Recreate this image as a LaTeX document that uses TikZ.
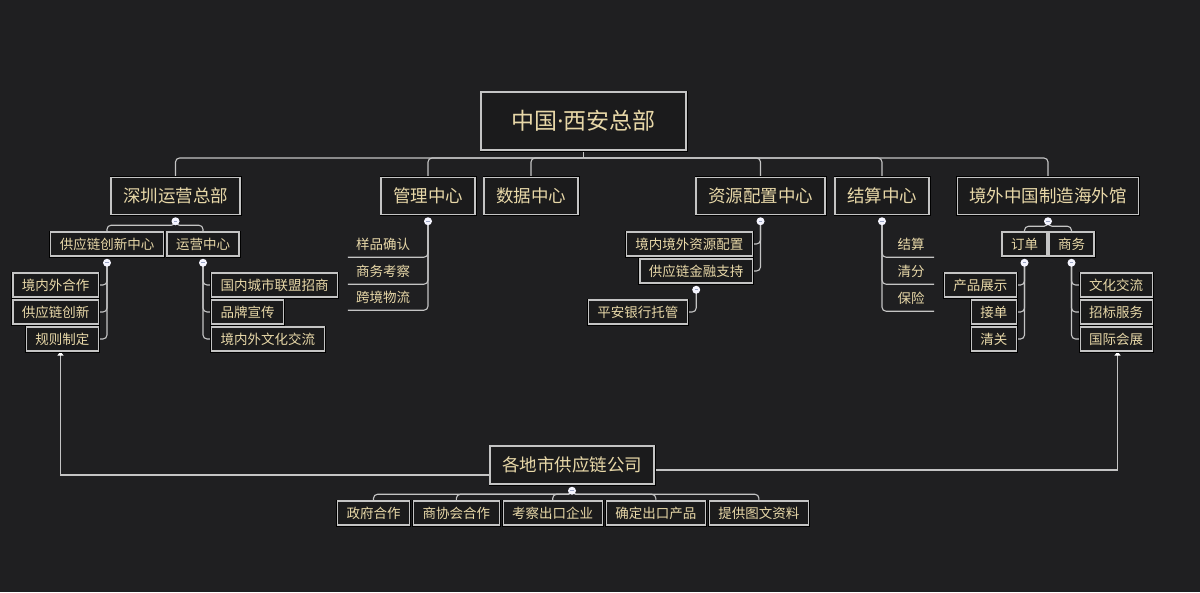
\documentclass[tikz,border=0pt]{standalone}
\usepackage{fontspec}
\setmainfont{Noto Sans CJK SC}
\newfontfamily\latindot{Noto Sans}
\usepackage{xcolor}
\usepackage{tikz}
\usetikzlibrary{arrows.meta, positioning, backgrounds}

\definecolor{bgdark}{HTML}{1F1F21}
\definecolor{boxdark}{HTML}{1B1B1C}
\definecolor{gold}{HTML}{E8D8A8}
\definecolor{linegray}{HTML}{C4C4C4}
\definecolor{knobblue}{HTML}{9AA4C4}

\begin{document}
\begin{tikzpicture}[
          x=1pt, y=-1pt,
          box/.style={draw=linegray, fill=boxdark, text=gold, line width=1.1pt, inner ysep=0pt,
            preaction={draw=black, line width=3pt}},
          top/.style={box, font=\fontsize{23}{23}\selectfont, minimum width=205pt, minimum height=58pt},
          head/.style={box, font=\fontsize{17.5}{17.5}\selectfont, inner xsep=12pt, minimum height=37pt},
          leaf/.style={box, font=\fontsize{13.5}{13.5}\selectfont, inner xsep=9pt, minimum height=24pt},
          plain/.style={text=gold, font=\fontsize{13.5}{13.5}\selectfont, inner sep=0pt, minimum height=26pt},
          knob/.style={circle, fill=white!96!blue, inner sep=0pt, minimum size=8pt,
            path picture={\draw[knobblue, line width=0.7pt] ([xshift=2.4pt]path picture bounding box.west) -- ([xshift=-2.4pt]path picture bounding box.east);}},
          conn/.style={draw=linegray, line width=1.1pt, rounded corners=4pt},
          feed/.style={draw=linegray, line width=1.1pt, sharp corners, -{Triangle[length=4pt, width=6pt, color=white]}}
        ]
  \useasboundingbox (0,0) rectangle (1200,592);

  % headquarters and first level
  \node[top] (root) at (583.5,121) {中国{\latindot ·}西安总部};
  \coordinate (rbus) at (583.5,158);
  \node[head] (sz) at (175.5,196) {深圳运营总部};
  \node[head] (gl) at (428,196) {管理中心};
  \node[head] (sj) at (531,196) {数据中心};
  \node[head] (zy) at (760.5,196) {资源配置中心};
  \node[head] (js) at (882,196) {结算中心};
  \node[head] (hw) at (1048,196) {境外中国制造海外馆};

  % shenzhen
  \node[leaf] (gx) at (107,244) {供应链创新中心};
  \node[leaf] (yy) at (203,244) {运营中心};
  \node[leaf, anchor=east] (gx1) at (99,285) {境内外合作};
  \node[leaf, anchor=east] (gx2) at (99,312) {供应链创新};
  \node[leaf, anchor=east] (gx3) at (99,339) {规则制定};
  \node[leaf, anchor=west] (yy1) at (211,285) {国内城市联盟招商};
  \node[leaf, anchor=west] (yy2) at (211,312) {品牌宣传};
  \node[leaf, anchor=west] (yy3) at (211,339) {境内外文化交流};

  % management
  \node[plain, minimum width=70pt] (gl1) at (383,244) {样品确认};
  \node[plain, minimum width=70pt] (gl2) at (383,271) {商务考察};
  \node[plain, minimum width=70pt] (gl3) at (383,297) {跨境物流};

  % resources
  \node[leaf, anchor=east] (zy1) at (753,244) {境内境外资源配置};
  \node[leaf, anchor=east] (zy2) at (753,271) {供应链金融支持};
  \node[leaf, anchor=east] (zy3) at (688,312) {平安银行托管};

  % settlement
  \node[plain, minimum width=46pt] (js1) at (911,244) {结算};
  \node[plain, minimum width=46pt] (js2) at (911,271) {清分};
  \node[plain, minimum width=46pt] (js3) at (911,298) {保险};

  % overseas pavilion
  \node[leaf] (dd) at (1024.5,244) {订单};
  \node[leaf] (sw) at (1071.5,244) {商务};
  \node[leaf, anchor=east] (dd1) at (1017,285) {产品展示};
  \node[leaf, anchor=east] (dd2) at (1017,312) {接单};
  \node[leaf, anchor=east] (dd3) at (1017,339) {清关};
  \node[leaf, anchor=west] (sw1) at (1079.5,285) {文化交流};
  \node[leaf, anchor=west] (sw2) at (1079.5,312) {招标服务};
  \node[leaf, anchor=west] (sw3) at (1079.5,339) {国际会展};

  % local companies
  \node[head, minimum height=38pt] (co) at (572,465) {各地市供应链公司};
  \node[leaf] (co1) at (373.5,513) {政府合作};
  \node[leaf, right=3pt of co1] (co2) {商协会合作};
  \node[leaf, right=3pt of co2] (co3) {考察出口企业};
  \node[leaf, right=3pt of co3] (co4) {确定出口产品};
  \node[leaf, right=3pt of co4] (co5) {提供图文资料};

  \foreach \n in {sz, gl, zy, js, hw, gx, yy, zy2, dd, sw, co}
    \node[knob, below=2pt of \n] (k\n) {};

  \begin{scope}[on background layer]
    \fill[bgdark] (0,0) rectangle (1200,592);
    \draw[conn] (root.south) -- (rbus);
    \foreach \n in {sz, gl, sj, zy, js, hw}
      \draw[conn] (rbus) -| (\n.north);
    \foreach \n in {gx, yy}
      \draw[conn] (ksz.center) -- ++(0,4) -| (\n.north);
    \foreach \n in {dd, sw}
      \draw[conn] (khw.center) -- ++(0,5) -| (\n.north);
    \foreach \n in {co1, co2, co3, co4, co5}
      \draw[conn] (kco.center) -- ++(0,3.5) -| (\n.north);
    \foreach \n in {gx1, gx2, gx3}
      \draw[conn] (kgx.center) |- (\n.east);
    \foreach \n in {yy1, yy2, yy3}
      \draw[conn] (kyy.center) |- (\n.west);
    \foreach \n in {dd1, dd2, dd3}
      \draw[conn] (kdd.center) |- (\n.east);
    \foreach \n in {sw1, sw2, sw3}
      \draw[conn] (ksw.center) |- (\n.west);
    \foreach \n in {zy1, zy2}
      \draw[conn] (kzy.center) |- (\n.east);
    \draw[conn] (kzy2.center) |- (zy3.east);
    \foreach \n in {gl1, gl2, gl3}
      \draw[conn] (kgl.center) |- (\n.south west);
    \foreach \n in {js1, js2, js3}
      \draw[conn] (kjs.center) |- (\n.south east);
    \draw[feed] ([yshift=-10pt]co.west) -| ([xshift=-2pt]gx3.south);
    \draw[feed] ([yshift=-5pt]co.east) -| ([xshift=1.5pt]sw3.south);
  \end{scope}
\end{tikzpicture}
\end{document}
